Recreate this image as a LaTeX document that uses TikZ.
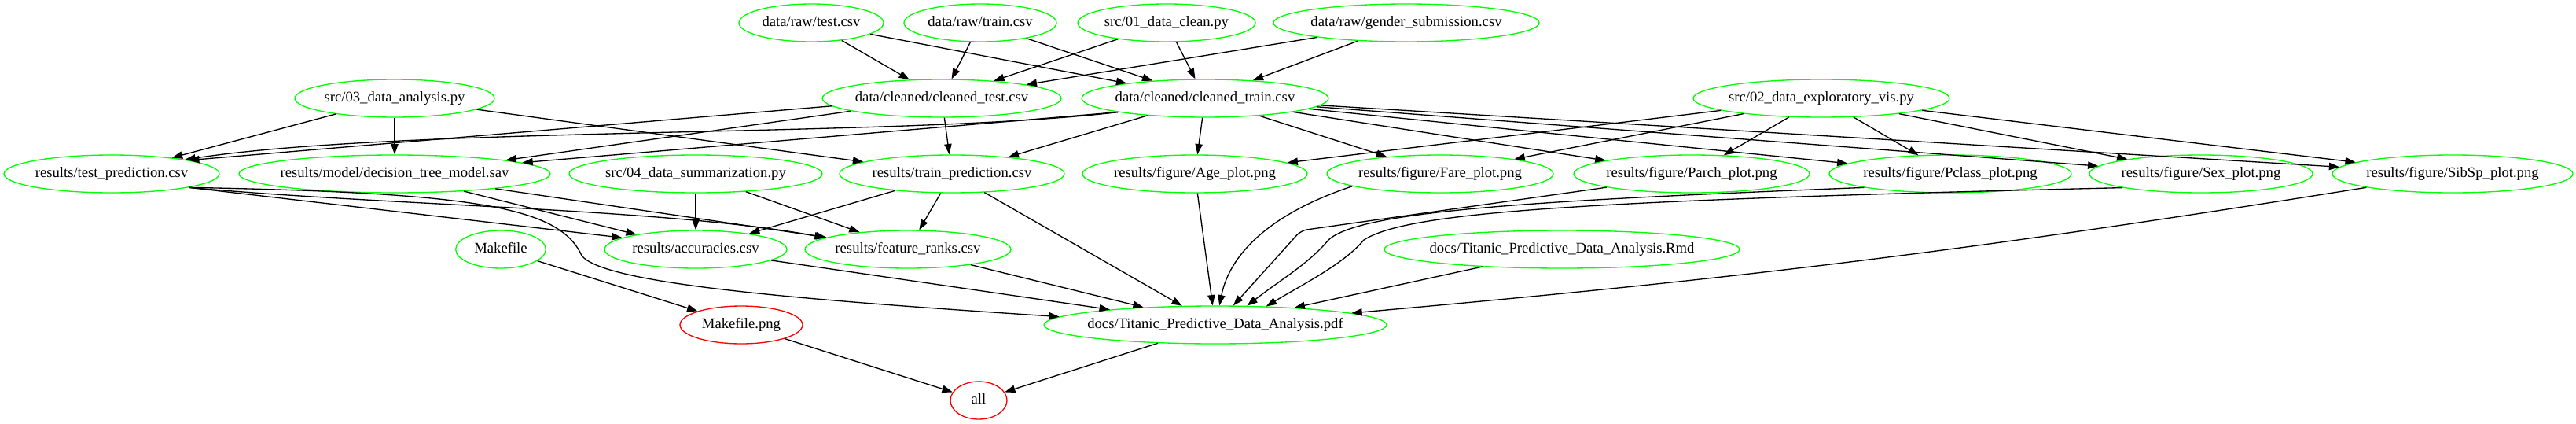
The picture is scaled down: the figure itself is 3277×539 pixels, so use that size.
\documentclass[tikz,border=0pt]{standalone}
\usepackage{fontspec}
\setmainfont{Liberation Serif}
\usetikzlibrary{shapes.geometric,arrows.meta}
\definecolor{gvgreen}{RGB}{0,255,0}
\definecolor{gvred}{RGB}{255,0,0}
\newcommand{\zlbl}[1]{\makebox[0pt]{#1}}
\begin{document}
\begin{tikzpicture}[x=0.75pt,y=-0.75pt,
  gn/.style={ellipse, draw=gvgreen, line width=1pt, minimum height=36pt, inner sep=0pt,
             text height=10pt, text depth=3pt, font=\fontsize{14pt}{16pt}\selectfont},
  rn/.style={gn, draw=gvred},
  arr/.style={-{Triangle[length=10pt,width=7pt]}, line width=1pt, draw=black}]
\useasboundingbox (0,0) rectangle (3277,539);
% row 1
\node[gn, minimum width=138pt]   (rt)  at (1032,29) {\zlbl{data/raw/test.csv}};
\node[gn, minimum width=145.5pt] (rtr) at (1247,29) {\zlbl{data/raw/train.csv}};
\node[gn, minimum width=169.5pt] (s1)  at (1484,29) {\zlbl{src/01\_data\_clean.py}};
\node[gn, minimum width=253.5pt] (gs)  at (1789,29) {\zlbl{data/raw/gender\_submission.csv}};
% row 2
\node[gn, minimum width=190.5pt] (s3)  at (502,125)  {\zlbl{src/03\_data\_analysis.py}};
\node[gn, minimum width=228pt]   (ct)  at (1198,125) {\zlbl{data/cleaned/cleaned\_test.csv}};
\node[gn, minimum width=235.5pt] (ctr) at (1533,125) {\zlbl{data/cleaned/cleaned\_train.csv}};
\node[gn, minimum width=244.5pt] (s2)  at (2317,125) {\zlbl{src/02\_data\_exploratory\_vis.py}};
% row 3
\node[gn, minimum width=205.5pt] (tp)     at (142,221)  {\zlbl{results/test\_prediction.csv}};
\node[gn, minimum width=297pt]   (dt)     at (502,221)  {\zlbl{results/model/decision\_tree\_model.sav}};
\node[gn, minimum width=241.5pt] (s4)     at (885,221)  {\zlbl{src/04\_data\_summarization.py}};
\node[gn, minimum width=214.5pt] (trp)    at (1211,221) {\zlbl{results/train\_prediction.csv}};
\node[gn, minimum width=214.5pt] (age)    at (1520,221) {\zlbl{results/figure/Age\_plot.png}};
\node[gn, minimum width=216pt]   (fare)   at (1832,221) {\zlbl{results/figure/Fare\_plot.png}};
\node[gn, minimum width=225pt]   (parch)  at (2152,221) {\zlbl{results/figure/Parch\_plot.png}};
\node[gn, minimum width=231pt]   (pclass) at (2481,221) {\zlbl{results/figure/Pclass\_plot.png}};
\node[gn, minimum width=213pt]   (sex)    at (2800,221) {\zlbl{results/figure/Sex\_plot.png}};
\node[gn, minimum width=229.5pt] (sibsp)  at (3120,221) {\zlbl{results/figure/SibSp\_plot.png}};
% row 4
\node[gn, minimum width=86pt]    (mk)  at (637,317)  {\zlbl{Makefile}};
\node[gn, minimum width=174pt]   (acc) at (885,317)  {\zlbl{results/accuracies.csv}};
\node[gn, minimum width=196.5pt] (fr)  at (1155,317) {\zlbl{results/feature\_ranks.csv}};
\node[gn, minimum width=339pt]   (rmd) at (1987,317) {\zlbl{docs/Titanic\_Predictive\_Data\_Analysis.Rmd}};
% row 5
\node[rn, minimum width=117pt]   (mkp) at (943,413)  {\zlbl{Makefile.png}};
\node[gn, minimum width=327pt]   (pdf) at (1546,413) {\zlbl{docs/Titanic\_Predictive\_Data\_Analysis.pdf}};
% row 6
\node[rn, minimum width=54pt]    (all) at (1245,509) {\zlbl{all}};

% edges row1 -> row2
\draw[arr] (rt) -- (ct);
\draw[arr] (rt) -- (ctr);
\draw[arr] (rtr) -- (ct);
\draw[arr] (rtr) -- (ctr);
\draw[arr] (s1) -- (ct);
\draw[arr] (s1) -- (ctr);
\draw[arr] (gs) -- (ct);
\draw[arr] (gs) -- (ctr);
% row2 -> row3
\draw[arr] (s3) -- (tp);
\draw[arr] (s3) -- (dt);
\draw[arr] (s3) -- (trp);
\draw[arr] (ct.184) -- (tp.10);
\draw[arr] (ct.188) -- (dt.7);
\draw[arr] (ct) -- (trp);
\draw[arr] (ctr.189) .. controls (1150,175) and (520,160) .. (tp.11);
\draw[arr] (ctr.189) -- (dt.5);
\draw[arr] (ctr) -- (trp);
\draw[arr] (ctr) -- (age);
\draw[arr] (ctr) -- (fare);
\draw[arr] (ctr) -- (parch);
\draw[arr] (ctr) -- (pclass);
\draw[arr] (ctr) -- (sex);
\draw[arr] (ctr) -- (sibsp);
\draw[arr] (s2) -- (age);
\draw[arr] (s2) -- (fare);
\draw[arr] (s2) -- (parch);
\draw[arr] (s2) -- (pclass);
\draw[arr] (s2) -- (sex);
\draw[arr] (s2) -- (sibsp);
% row3 -> lower
\draw[arr] (tp.-10) -- (acc.171);
\draw[arr] (tp.-10) .. controls (500,262) and (850,265) .. (fr.172);
\draw[arr] (tp.-10) .. controls (600,245) and (712,262) .. (740,325) .. controls (768,360) and (1000,380) .. (pdf.177);
\draw[arr] (dt) -- (acc);
\draw[arr] (dt) -- (fr);
\draw[arr] (s4) -- (acc);
\draw[arr] (s4) -- (fr);
\draw[arr] (trp) -- (acc);
\draw[arr] (trp) -- (fr);
\draw[arr] (trp) -- (pdf);
\draw[arr] (age) -- (pdf);
\draw[arr] (fare.188) .. controls (1620,270) and (1565,320) .. (pdf.78);
\draw[arr, rounded corners=6pt] (parch.189) -- (1655,293) -- (pdf.47);
\draw[arr] (pclass.189) .. controls (1950,255) and (1730,268) .. (1690,305) .. controls (1665,335) and (1630,355) .. (pdf.31);
\draw[arr] (sex.190) .. controls (2000,255) and (1790,270) .. (1735,305) .. controls (1710,335) and (1660,360) .. (pdf.20);
\draw[arr] (sibsp) to[bend left=2] (pdf);
\draw[arr] (rmd) -- (pdf);
\draw[arr] (acc) -- (pdf);
\draw[arr] (fr) -- (pdf);
\draw[arr] (mk) -- (mkp);
\draw[arr] (mkp) -- (all);
\draw[arr] (pdf) -- (all);
\end{tikzpicture}
\end{document}
